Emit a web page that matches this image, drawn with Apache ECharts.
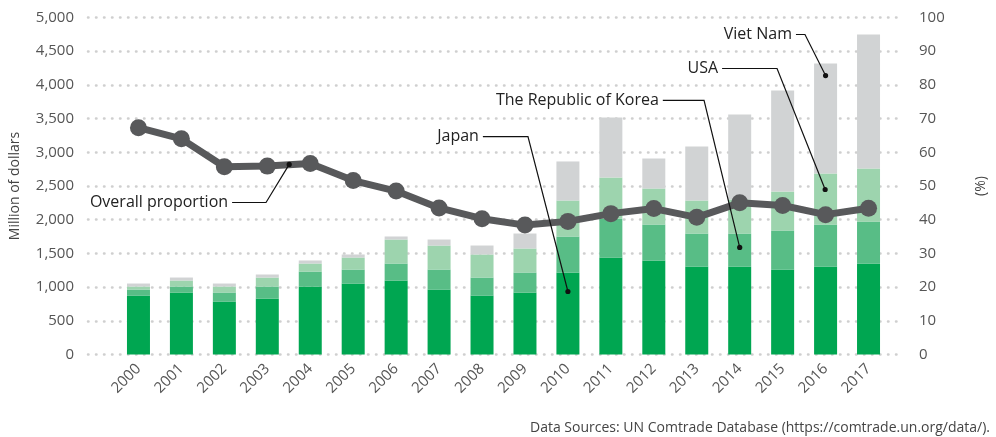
<!DOCTYPE html>
<html>
<head>
<meta charset="utf-8">
<script src="https://cdn.jsdelivr.net/npm/echarts@6/dist/echarts.min.js"></script>
<style>
  html, body { margin: 0; padding: 0; background: #fff; }
  #chart { width: 996px; height: 437px; }
</style>
</head>
<body>
<div id="chart"></div>
<script>
// data
const years = ['2000','2001','2002','2003','2004','2005','2006','2007','2008',
  '2009','2010','2011','2012','2013','2014','2015','2016','2017']
const japan   = [875, 920, 786, 831, 1009, 1053, 1098, 964, 875, 920, 1217, 1439, 1395, 1306, 1306, 1261, 1306, 1350]
const korea   = [89, 89, 134, 178, 222, 208, 252, 297, 267, 297, 534, 579, 534, 489, 489, 579, 623, 623]
const usa     = [45, 89, 89, 133, 119, 178, 356, 356, 342, 356, 534, 608, 534, 490, 505, 578, 757, 787]
const vietnam = [44, 44, 44, 45, 45, 45, 45, 89, 133, 222, 579, 890, 445, 801, 1261, 1499, 1632, 1988]
const overall = [67.3, 64.0, 55.7, 55.9, 56.7, 51.6, 48.5, 43.5, 40.3, 38.4, 39.5, 41.8, 43.3, 40.7, 45.0, 44.2, 41.5, 43.4]

// callouts: dot / elbow / line start as [category index, value]; axis 'pct' or 'usd'
const callouts = [
  { text: 'Overall proportion', axis: 'pct', dot: [3.51, 56.4], elbow: [2.97, 45.1], start: 2.18 },
  { text: 'Japan', axis: 'usd', dot: [10.0, 935], elbow: [9.07, 3234], start: 8.02 },
  { text: 'The Republic of Korea', axis: 'usd', dot: [14.0, 1588], elbow: [13.17, 3769], start: 12.21 },
  { text: 'USA', axis: 'usd', dot: [15.99, 2448], elbow: [14.87, 4243], start: 13.59 },
  { text: 'Viet Nam', axis: 'usd', dot: [16.0, 4139], elbow: [15.52, 4748], start: 15.31 }
]

const font = '"Open Sans", "Noto Sans", sans-serif'
const dotted = { color: '#cfcfcf', width: 2.5, type: [0.5, 7.5], cap: 'round' }

let chart = echarts.init(document.getElementById('chart'), null, { renderer: 'canvas' })

const option = {
  animation: false,
  textStyle: { fontFamily: font },
  grid: [
    // background grid only for the wide dotted lines and tick labels
    { left: 86, right: 76, top: 17.5, bottom: 82.5 },
    { left: 117, right: 106, top: 17.5, bottom: 82.5 }
  ],
  xAxis: [
    { gridIndex: 0, type: 'value', min: 0, max: 1, show: false },
    {
      gridIndex: 1, type: 'category', data: years,
      axisLine: { show: false }, axisTick: { show: false },
      axisLabel: { rotate: 45, fontSize: 15, color: '#555', margin: 12, fontFamily: font }
    }
  ],
  yAxis: [
    {
      gridIndex: 0, type: 'value', min: 0, max: 5000, interval: 500,
      name: 'Million of dollars', nameLocation: 'middle', nameGap: 66,
      nameTextStyle: { fontSize: 14, color: '#444', fontFamily: font },
      axisLine: { show: false }, axisTick: { show: false },
      axisLabel: { fontSize: 15, color: '#555', margin: 14, fontFamily: font },
      splitLine: { show: true, lineStyle: dotted }
    },
    {
      gridIndex: 0, type: 'value', min: 0, max: 100, interval: 10, position: 'right',
      name: '(%)', nameLocation: 'middle', nameGap: 73, nameRotate: 90,
      nameTextStyle: { fontSize: 14, color: '#444', fontFamily: font },
      axisLine: { show: false }, axisTick: { show: false },
      axisLabel: { fontSize: 15, color: '#555', margin: 18, fontFamily: font },
      splitLine: { show: false }
    },
    { gridIndex: 1, type: 'value', min: 0, max: 5000, show: false, splitLine: { show: false } },
    { gridIndex: 1, type: 'value', min: 0, max: 100, show: false, position: 'right', splitLine: { show: false } }
  ],
  series: [
    { name: 'Japan', type: 'bar', stack: 'all', xAxisIndex: 1, yAxisIndex: 2, barWidth: 23,
      itemStyle: { color: '#00a651' }, data: japan },
    { name: 'The Republic of Korea', type: 'bar', stack: 'all', xAxisIndex: 1, yAxisIndex: 2, barWidth: 23,
      itemStyle: { color: '#58bd86' }, data: korea },
    { name: 'USA', type: 'bar', stack: 'all', xAxisIndex: 1, yAxisIndex: 2, barWidth: 23,
      itemStyle: { color: '#9dd4ae' }, data: usa },
    { name: 'Viet Nam', type: 'bar', stack: 'all', xAxisIndex: 1, yAxisIndex: 2, barWidth: 23,
      itemStyle: { color: '#d1d3d4' }, data: vietnam },
    { name: 'Overall proportion', type: 'line', xAxisIndex: 1, yAxisIndex: 3, z: 5,
      symbol: 'circle', symbolSize: 17,
      lineStyle: { color: '#58595b', width: 7 },
      itemStyle: { color: '#58595b' },
      data: overall }
  ],
  graphic: [
    { type: 'text', right: 6, bottom: 2, z: 10,
      style: { text: 'Data Sources: UN Comtrade Database (https://comtrade.un.org/data/).',
        fontSize: 14, fontFamily: font, fill: '#444' } }
  ]
}

chart.setOption(option)

// turn [index, value] into pixels through the chart's own axes
let toPixel = (idx, val, axis) => {
  let i0 = Math.floor(idx), i1 = Math.min(i0 + 1, years.length - 1)
  let x0 = chart.convertToPixel({ xAxisIndex: 1 }, i0)
  let x1 = chart.convertToPixel({ xAxisIndex: 1 }, i1)
  let x = x0 + (idx - i0) * (x1 - x0)
  let y = chart.convertToPixel({ yAxisIndex: axis === 'pct' ? 3 : 2 }, val)
  return [x, y]
}

let extra = []
callouts.forEach(c => {
  let dot = toPixel(c.dot[0], c.dot[1], c.axis)
  let elbow = toPixel(c.elbow[0], c.elbow[1], c.axis)
  let start = toPixel(c.start, c.elbow[1], c.axis)
  extra.push({
    type: 'polyline', z: 20, silent: true,
    shape: { points: [start, elbow, dot] },
    style: { stroke: '#111', lineWidth: 1.2, fill: null }
  })
  extra.push({
    type: 'circle', z: 21, silent: true,
    shape: { cx: dot[0], cy: dot[1], r: 2.6 },
    style: { fill: '#111' }
  })
  extra.push({
    type: 'text', z: 21, silent: true,
    x: start[0] - 4, y: start[1],
    style: { text: c.text, fontSize: 16, fontFamily: font, fill: '#222',
      align: 'right', verticalAlign: 'middle' }
  })
})
chart.setOption({ graphic: option.graphic.concat(extra) })
</script>
</body>
</html>
